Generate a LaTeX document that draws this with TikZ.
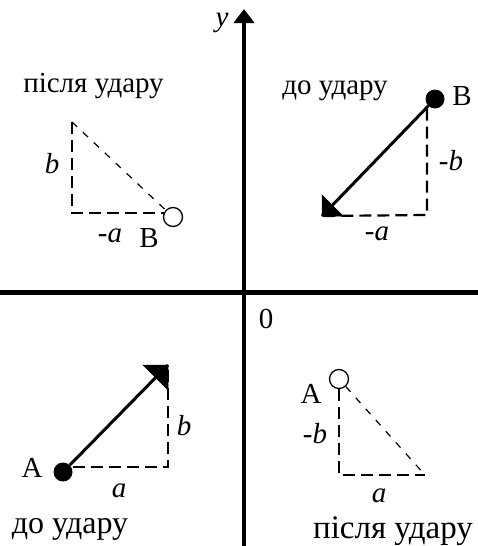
\documentclass[tikz,border=0pt]{standalone}
\usepackage{fontspec}
\setmainfont{Liberation Serif}
\usetikzlibrary{arrows.meta}
\begin{document}
\begin{tikzpicture}[x=1pt,y=-1pt,
  axis/.style={line width=4.5pt},
  vec/.style={line width=3pt},
  guide/.style={line width=2.2pt, dash pattern=on 12pt off 6pt},
  hyp/.style={line width=1.2pt, dash pattern=on 7pt off 8pt},
  ball/.style={circle, fill=black, minimum size=19pt, inner sep=0pt},
  hollow/.style={circle, draw, line width=1.3pt, fill=white, minimum size=19pt, inner sep=0pt},
  txt/.style={font=\fontsize{29}{32}\selectfont, inner sep=0pt, anchor=base},
  itx/.style={font=\fontsize{29}{32}\selectfont\itshape, inner sep=0pt, anchor=base},
  headfill/.style={fill=black, draw=black, line width=0.5pt, line join=miter}
]
\useasboundingbox (0,0) rectangle (478,546);

% axes
\coordinate (yb) at (244,546);
\coordinate (yt) at (244,9);
\coordinate (xl) at (0,292.5);
\coordinate (xr) at (478,292.5);
\draw[axis] (xl) -- (xr);
\draw[axis, -{Triangle[length=14pt,width=20pt]}] (yb) -- (yt);
\node[itx] (ylab) at (222,26) {y};
\node[txt] (zero) at (266,328) {0};

% top left: after impact
\node[txt] (tlTitle) at (93.5,92) {після удару};
\coordinate (tlTop) at (72,122);
\coordinate (tlCorner) at (72,213);
\node[hollow] (Bafter) at (173,217) {};
\coordinate (tlEnd) at (163.5,213);
\draw[guide] (tlTop) -- (tlCorner) -- (tlEnd);
\draw[hyp] (tlTop) -- (Bafter);
\node[itx] (tlb) at (52,173) {b};
\node[txt] (tla) at (110,242) {-\textit{a}};
\node[txt] (tlB) at (149,247) {B};

% top right: before impact
\node[txt] (trTitle) at (335,94) {до удару};
\node[ball] (Bbefore) at (435,99) {};
\coordinate (trCorner) at (427,215);
\coordinate (trTip) at (322,216);
\draw[guide] (trCorner |- Bbefore.south) -- (trCorner) -- (trTip);
\draw[vec] (Bbefore) -- (trTip);
\fill[headfill] (trTip) -- ++(0,-21) -- ++(21,21) -- cycle;
\node[txt] (trB) at (462,105) {B};
\node[txt] (trb) at (451,170) {-\textit{b}};
\node[txt] (tra) at (377,240) {-\textit{a}};

% bottom left: before impact
\node[ball] (Abefore) at (63,472) {};
\coordinate (blCorner) at (168,467);
\coordinate (blTip) at (168,365);
\draw[guide] (Abefore.east |- blCorner) -- (blCorner) -- (blTip);
\draw[vec] (Abefore) -- (blTip);
\fill[headfill] (blTip) -- ++(-25,0) -- ++(25,25) -- cycle;
\node[txt] (blA) at (32,477) {A};
\node[itx] (blb) at (184,435) {b};
\node[itx] (bla) at (119,497) {a};
\node[txt, font=\fontsize{32}{34}\selectfont] (blTitle) at (70,533) {до удару};

% bottom right: after impact
\node[hollow] (Aafter) at (339,379) {};
\coordinate (brCorner) at (339,475);
\coordinate (brEnd) at (425,475);
\draw[guide] (Aafter.south) -- (brCorner) -- (brEnd);
\draw[hyp] (Aafter) -- (brEnd);
\node[txt] (brA) at (311,403) {A};
\node[txt] (brb) at (315,443) {-\textit{b}};
\node[itx] (bra) at (379,502) {a};
\node[txt, font=\fontsize{33}{35}\selectfont] (brTitle) at (393,538) {після удару};
\end{tikzpicture}
\end{document}
